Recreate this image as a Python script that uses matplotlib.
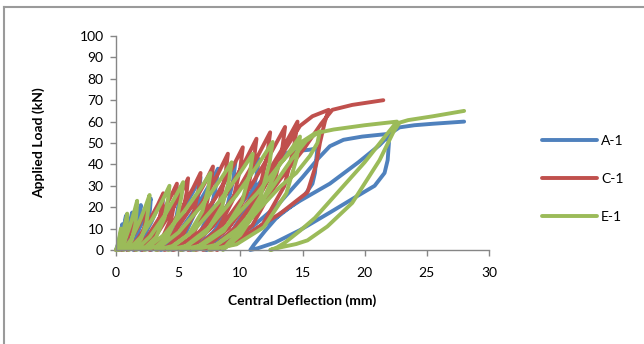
import matplotlib
matplotlib.use("Agg")
import matplotlib.pyplot as plt
from matplotlib.lines import Line2D
import numpy as np

plt.rcParams['font.family'] = ['Lato', 'DejaVu Sans']

# ---------------- data ----------------
x_ticks = [0, 5, 10, 15, 20, 25, 30]
y_ticks = [0, 10, 20, 30, 40, 50, 60, 70, 80, 90, 100]
series_names = ["A-1", "C-1", "E-1"]

# A-1: deflection (mm), load (kN), traced loop by loop
a1_pts = [
    (0, 0), (0.15, 2.4), (0.3, 6), (0.43, 9.6), (0.5, 12),
    (0.49, 9.6), (0.45, 6), (0.36, 2.4), (0.26, 0.6), (0.15, 0),
    (0.35, 3.2), (0.54, 8), (0.70, 12.8), (0.8, 16),
    (0.78, 12.8), (0.73, 8), (0.6, 3.2), (0.45, 0.8), (0.3, 0),
    (0.6, 3.5), (0.9, 8.75), (1.15, 14), (1.3, 17.5),
    (1.27, 14), (1.18, 8.75), (0.98, 3.5), (0.74, 0.9), (0.5, 0),
    (0.95, 4.2), (1.4, 10.5), (1.78, 16.8), (2.0, 21),
    (1.96, 16.8), (1.84, 10.5), (1.56, 4.2), (1.23, 1), (0.9, 0),
    (1.47, 4.8), (2.04, 12), (2.52, 19.2), (2.8, 24),
    (2.74, 19.2), (2.59, 12), (2.24, 4.8), (1.82, 1.2), (1.4, 0),
    (2.12, 5.2), (2.84, 13), (3.44, 20.8), (3.8, 26),
    (3.73, 20.8), (3.53, 13), (3.08, 5.2), (2.54, 1.3), (2.0, 0),
    (2.96, 5.9), (3.92, 14.75), (4.72, 23.6), (5.2, 29.5),
    (5.1, 23.6), (4.84, 14.75), (4.24, 5.9), (3.52, 1.5), (2.8, 0),
    (4.0, 6.8), (5.2, 17), (6.2, 27.2), (6.8, 34),
    (6.67, 27.2), (6.32, 17), (5.52, 6.8), (4.56, 1.7), (3.6, 0),
    (4.98, 7.6), (6.36, 19), (7.51, 30.4), (8.2, 38),
    (8.05, 30.4), (7.65, 19), (6.72, 7.6), (5.61, 1.9), (4.5, 0),
    (6.03, 8.2), (7.56, 20.5), (8.84, 32.8), (9.6, 41),
    (9.43, 32.8), (8.96, 20.5), (7.88, 8.2), (6.59, 2), (5.3, 0),
    (7.16, 8.5), (9.02, 21.25), (10.57, 34), (11.5, 42.5),
    (11.28, 34), (10.68, 21.25), (9.3, 8.5), (7.65, 2.1), (6.0, 0),
    (7.6, 7), (9.8, 20), (11.8, 33), (13.2, 42), (13.8, 45.5), (14.6, 46.3),
    (15.5, 46.8), (16.2, 47.5),
    (16.1, 42), (16.0, 36), (15.8, 31), (15.1, 25), (13.0, 15.5), (10.5, 7),
    (8.5, 2), (7.2, 0),
    (9.0, 4), (11.0, 11), (13.0, 21), (15.0, 34), (16.3, 43), (17.2, 48.5),
    (18.3, 51.5), (19.8, 53), (21.8, 54.2),
    (21.95, 50), (21.85, 42), (21.6, 36), (20.8, 30), (19.2, 24.5), (17.2, 17.5),
    (14.8, 9.3), (12.8, 3.5), (11.4, 0.8), (10.8, 0),
    (11.1, 2.5), (12.0, 9), (13.2, 17), (14.8, 23), (17.2, 31), (19.5, 41),
    (21.2, 49), (22.2, 55), (22.8, 57.3), (24.0, 58.3), (25.5, 59), (28.0, 60),
]

# C-1
c1_pts = [
    (0, 0), (0.18, 1), (0.36, 2.5), (0.51, 4), (0.6, 5),
    (0.58, 4), (0.54, 2.5), (0.44, 1), (0.32, 0.25), (0.2, 0),
    (0.56, 2.5), (0.92, 6.25), (1.22, 10), (1.4, 12.5),
    (1.36, 10), (1.27, 6.25), (1.04, 2.5), (0.77, 0.6), (0.5, 0),
    (1.1, 4), (1.7, 10), (2.2, 16), (2.5, 20),
    (2.44, 16), (2.26, 10), (1.86, 4), (1.38, 1), (0.9, 0),
    (1.77, 5.3), (2.64, 13.25), (3.37, 21.2), (3.8, 26.5),
    (3.71, 21.2), (3.46, 13.25), (2.88, 5.3), (2.19, 1.3), (1.5, 0),
    (2.52, 6.2), (3.54, 15.5), (4.39, 24.8), (4.9, 31),
    (4.79, 24.8), (4.48, 15.5), (3.78, 6.2), (2.94, 1.55), (2.1, 0),
    (3.21, 6.7), (4.32, 16.75), (5.25, 26.8), (5.8, 33.5),
    (5.68, 26.8), (5.34, 16.75), (4.56, 6.7), (3.63, 1.7), (2.7, 0),
    (3.93, 7.2), (5.16, 18), (6.19, 28.8), (6.8, 36),
    (6.66, 28.8), (6.28, 18), (5.4, 7.2), (4.35, 1.8), (3.3, 0),
    (4.65, 7.8), (6.0, 19.5), (7.13, 31.2), (7.8, 39),
    (7.64, 31.2), (7.22, 19.5), (6.24, 7.8), (5.07, 1.95), (3.9, 0),
    (5.43, 9), (6.96, 22.5), (8.24, 36), (9.0, 45),
    (8.82, 36), (8.34, 22.5), (7.24, 9), (5.92, 2.25), (4.6, 0),
    (6.28, 9.6), (7.96, 24), (9.36, 38.4), (10.2, 48),
    (10.0, 38.4), (9.45, 24), (8.2, 9.6), (6.7, 2.4), (5.2, 0),
    (7.03, 10.4), (8.86, 26), (10.39, 41.6), (11.3, 52),
    (11.08, 41.6), (10.48, 26), (9.1, 10.4), (7.45, 2.6), (5.8, 0),
    (7.78, 11), (9.76, 27.5), (11.41, 44), (12.4, 55),
    (12.16, 44), (11.5, 27.5), (10.0, 11), (8.2, 2.75), (6.4, 0),
    (8.56, 11.5), (10.72, 28.75), (12.52, 46), (13.6, 57.5),
    (13.34, 46), (12.61, 28.75), (10.96, 11.5), (8.98, 2.9), (7.0, 0),
    (9.28, 12), (11.56, 30), (13.46, 48), (14.6, 60),
    (14.32, 48), (13.55, 30), (11.8, 12), (9.7, 3), (7.6, 0),
    (9.5, 10), (11.8, 28), (13.6, 47), (14.8, 58), (15.8, 62.5), (17.1, 65.5),
    (16.8, 60), (16.4, 50), (16.1, 40), (15.4, 27), (13.2, 17), (11.0, 9),
    (9.2, 3), (8.1, 0),
    (9.3, 5), (11.2, 17), (13.2, 33), (15.2, 48), (16.5, 59), (17.4, 65.5),
    (19.0, 67.8), (21.5, 70),
]

# E-1
e1_pts = [
    (0, 0), (0.12, 2), (0.24, 5), (0.34, 8), (0.4, 10),
    (0.39, 8), (0.36, 5), (0.28, 2), (0.19, 0.5), (0.1, 0),
    (0.34, 3.4), (0.58, 8.5), (0.78, 13.6), (0.9, 17),
    (0.88, 13.6), (0.81, 8.5), (0.66, 3.4), (0.48, 0.85), (0.3, 0),
    (0.72, 4.6), (1.14, 11.5), (1.49, 18.4), (1.7, 23),
    (1.66, 18.4), (1.54, 11.5), (1.26, 4.6), (0.93, 1.15), (0.6, 0),
    (1.23, 5.1), (1.86, 12.85), (2.39, 20.6), (2.7, 25.7),
    (2.63, 20.6), (2.45, 12.85), (2.02, 5.1), (1.51, 1.3), (1.0, 0),
    (1.99, 6), (2.98, 15), (3.81, 24), (4.3, 30),
    (4.19, 24), (3.9, 15), (3.22, 6), (2.41, 1.5), (1.6, 0),
    (2.74, 6.3), (3.88, 15.85), (4.83, 25.4), (5.4, 31.7),
    (5.28, 25.4), (4.94, 15.85), (4.16, 6.3), (3.23, 1.6), (2.3, 0),
    (3.89, 7.2), (5.48, 18), (6.81, 28.8), (7.6, 36),
    (7.42, 28.8), (6.94, 18), (5.84, 7.2), (4.52, 1.8), (3.2, 0),
    (5.03, 8.2), (6.86, 20.5), (8.39, 32.8), (9.3, 41),
    (9.1, 32.8), (8.54, 20.5), (7.26, 8.2), (5.73, 2), (4.2, 0),
    (6.24, 9), (8.28, 22.5), (9.98, 36), (11.0, 45),
    (10.77, 36), (10.13, 22.5), (8.68, 9), (6.94, 2.25), (5.2, 0),
    (7.42, 10.1), (9.64, 25.25), (11.49, 40.4), (12.6, 50.5),
    (12.34, 40.4), (11.64, 25.25), (10.04, 10.1), (8.12, 2.5), (6.2, 0),
    (8.78, 10.6), (11.36, 26.5), (13.51, 42.4), (14.8, 53),
    (14.51, 42.4), (13.7, 26.5), (11.88, 10.6), (9.69, 2.65), (7.5, 0),
    (9.8, 10), (12.3, 27), (14.2, 43), (15.3, 51), (16.4, 55.5),
    (16.2, 50), (15.6, 44), (14.5, 36), (13.2, 29.6), (11.5, 19), (10.0, 9),
    (9.0, 3), (8.6, 0),
    (10.0, 7), (11.7, 22), (13.2, 40.6), (14.8, 50), (16.0, 54.5), (17.5, 56.3),
    (20.0, 58.3), (22.6, 60),
    (21.5, 52), (20.0, 41), (18.0, 28), (16.0, 15), (14.8, 9), (13.6, 3.5),
    (12.9, 1), (12.4, 0),
    (13.2, 1.2), (14.5, 2.8), (15.4, 4.5), (17.0, 11), (19.0, 22), (21.2, 42),
    (22.3, 55), (22.8, 59.5), (23.5, 60.7), (25.5, 62.5), (28.0, 65),
]

colors = ["#4F81BD", "#C0504D", "#9BBB59"]

# ---------------- figure ----------------
fig = plt.figure(figsize=(6.44, 3.44), dpi=100)
fig.patch.set_facecolor("white")
ax = fig.add_axes([116 / 644, 94 / 344, 373 / 644, 214 / 344])

handles = []
for pts, name, col in zip([a1_pts, c1_pts, e1_pts], series_names, colors):
    arr = np.array(pts)
    ln, = ax.plot(arr[:, 0], arr[:, 1], color=col, lw=2.8,
                  solid_joinstyle="round", solid_capstyle="round",
                  label=name, clip_on=False)
    handles.append(ln)

ax.set_xlim(0, 30)
ax.set_ylim(0, 100)
ax.set_xticks(x_ticks)
ax.set_yticks(y_ticks)
ax.spines["top"].set_visible(False)
ax.spines["right"].set_visible(False)
for s in ("left", "bottom"):
    ax.spines[s].set_color("#868686")
    ax.spines[s].set_linewidth(1.0)
ax.tick_params(direction="out", length=4, width=1.0, color="#868686",
               labelsize=10, labelcolor="black")
ax.tick_params(axis="x", pad=8.5)
ax.tick_params(axis="y", pad=5)
ax.set_xlabel("Central Deflection (mm)", fontsize=10, fontweight="bold", labelpad=11)
ax.set_ylabel("Applied Load (kN)", fontsize=10, fontweight="bold", labelpad=25)

leg = fig.legend(handles=handles, labels=series_names, loc="center left",
                 bbox_to_anchor=(529 / 644, 1 - 179 / 344), frameon=False,
                 fontsize=10, handlelength=4.0, labelspacing=1.85,
                 handletextpad=0.3)

# outer chart frame
fig.add_artist(Line2D([4 / 644, 1.0], [1 - 7 / 344, 1 - 7 / 344],
                      transform=fig.transFigure, color="#9a9a9a", lw=1.5))
fig.add_artist(Line2D([4 / 644, 4 / 644], [0.0, 1 - 7 / 344],
                      transform=fig.transFigure, color="#9a9a9a", lw=1.5))

fig.savefig("out.png", dpi=100, facecolor="white")
